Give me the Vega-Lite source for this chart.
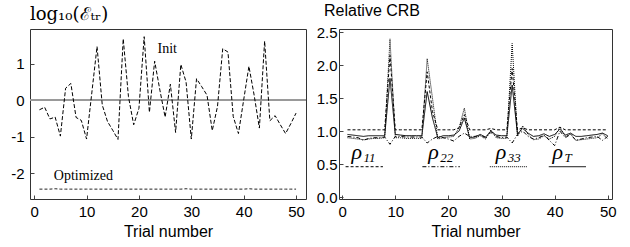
{
  "$schema": "https://vega.github.io/schema/vega-lite/v6.json",
  "padding": {"left": 10, "top": 2, "right": 0, "bottom": 2},
  "spacing": 7,
  "config": {
    "view": {"stroke": "#333", "strokeWidth": 1},
    "axis": {"labelFont": "Liberation Sans", "labelFontSize": 15, "labelColor": "#000", "titleFont": "Liberation Sans", "titleFontSize": 16, "titleFontWeight": "normal", "titleColor": "#000", "grid": false, "domain": false, "tickColor": "#444", "tickSize": -4, "labelPadding": 9, "titlePadding": 4, "labelOverlap": false},
    "axisY": {"labelOverlap": false},
    "axisQuantitative": {"labelOverlap": false}
  },
  "datasets": {
    "left": [
      {"t": 1, "init": -0.26, "opt": -2.43}, {"t": 2, "init": -0.19, "opt": -2.43}, {"t": 3, "init": -0.51, "opt": -2.43}, {"t": 4, "init": -0.46, "opt": -2.42},
      {"t": 5, "init": -0.98, "opt": -2.43}, {"t": 6, "init": 0.33, "opt": -2.43}, {"t": 7, "init": 0.46, "opt": -2.43}, {"t": 8, "init": -0.47, "opt": -2.43},
      {"t": 9, "init": -0.55, "opt": -2.43}, {"t": 10, "init": -1.06, "opt": -2.43}, {"t": 11, "init": 0.2, "opt": -2.43}, {"t": 12, "init": 1.47, "opt": -2.43},
      {"t": 13, "init": -0.13, "opt": -2.43}, {"t": 14, "init": -0.58, "opt": -2.43}, {"t": 15, "init": -0.82, "opt": -2.43}, {"t": 16, "init": -1.07, "opt": -2.43},
      {"t": 17, "init": 1.68, "opt": -2.43}, {"t": 18, "init": 0.1, "opt": -2.43}, {"t": 19, "init": -0.67, "opt": -2.43}, {"t": 20, "init": -0.22, "opt": -2.43},
      {"t": 21, "init": 1.74, "opt": -2.43}, {"t": 22, "init": -0.33, "opt": -2.43}, {"t": 23, "init": 1.07, "opt": -2.43}, {"t": 24, "init": 0.28, "opt": -2.43},
      {"t": 25, "init": -0.46, "opt": -2.43}, {"t": 26, "init": 0.44, "opt": -2.43}, {"t": 27, "init": -0.88, "opt": -2.43}, {"t": 28, "init": 0.98, "opt": -2.43},
      {"t": 29, "init": 0.5, "opt": -2.42}, {"t": 30, "init": -1.06, "opt": -2.43}, {"t": 31, "init": 0.59, "opt": -2.43}, {"t": 32, "init": 0.37, "opt": -2.43},
      {"t": 33, "init": 0.14, "opt": -2.43}, {"t": 34, "init": -0.83, "opt": -2.43}, {"t": 35, "init": -0.17, "opt": -2.43}, {"t": 36, "init": 1.41, "opt": -2.43},
      {"t": 37, "init": 1.32, "opt": -2.43}, {"t": 38, "init": -0.44, "opt": -2.43}, {"t": 39, "init": -0.91, "opt": -2.43}, {"t": 40, "init": 0.01, "opt": -2.43},
      {"t": 41, "init": 0.93, "opt": -2.42}, {"t": 42, "init": 0.14, "opt": -2.43}, {"t": 43, "init": -0.76, "opt": -2.43}, {"t": 44, "init": 1.62, "opt": -2.43},
      {"t": 45, "init": -0.56, "opt": -2.43}, {"t": 46, "init": -0.42, "opt": -2.43}, {"t": 47, "init": -0.67, "opt": -2.43}, {"t": 48, "init": -0.91, "opt": -2.43},
      {"t": 49, "init": -0.64, "opt": -2.43}, {"t": 50, "init": -0.35, "opt": -2.43}
    ],
    "leftLabels": [
      {"x": 25.4, "y": 1.41, "label": "Init"},
      {"x": 9.4, "y": -2.07, "label": "Optimized"}
    ],
    "right": [
      {"t": 1, "p11": 1.02, "p22": 0.92, "p33": 0.9, "pT": 0.95}, {"t": 2, "p11": 1.02, "p22": 0.91, "p33": 0.89, "pT": 0.94},
      {"t": 3, "p11": 1.02, "p22": 0.9, "p33": 0.88, "pT": 0.93}, {"t": 4, "p11": 1.02, "p22": 0.86, "p33": 0.87, "pT": 0.92},
      {"t": 5, "p11": 1.02, "p22": 0.89, "p33": 0.88, "pT": 0.93}, {"t": 6, "p11": 1.02, "p22": 0.9, "p33": 0.89, "pT": 0.93},
      {"t": 7, "p11": 1.02, "p22": 0.9, "p33": 0.89, "pT": 0.93}, {"t": 8, "p11": 1.02, "p22": 0.91, "p33": 0.9, "pT": 0.93},
      {"t": 9, "p11": 2.15, "p22": 0.8, "p33": 2.4, "pT": 1.8}, {"t": 10, "p11": 1.02, "p22": 0.92, "p33": 0.9, "pT": 0.95},
      {"t": 11, "p11": 1.02, "p22": 0.92, "p33": 0.9, "pT": 0.94}, {"t": 12, "p11": 1.02, "p22": 0.91, "p33": 0.89, "pT": 0.93},
      {"t": 13, "p11": 1.02, "p22": 0.91, "p33": 0.89, "pT": 0.93}, {"t": 14, "p11": 1.02, "p22": 0.91, "p33": 0.89, "pT": 0.93},
      {"t": 15, "p11": 1.02, "p22": 0.91, "p33": 0.89, "pT": 0.93}, {"t": 16, "p11": 1.9, "p22": 0.82, "p33": 2.1, "pT": 1.6},
      {"t": 17, "p11": 1.3, "p22": 0.88, "p33": 1.5, "pT": 1.2}, {"t": 18, "p11": 1.02, "p22": 0.92, "p33": 0.88, "pT": 0.9},
      {"t": 19, "p11": 1.02, "p22": 0.9, "p33": 0.9, "pT": 0.93}, {"t": 20, "p11": 1.02, "p22": 0.88, "p33": 0.91, "pT": 0.93},
      {"t": 21, "p11": 1.02, "p22": 0.85, "p33": 0.92, "pT": 0.94}, {"t": 22, "p11": 1.05, "p22": 0.92, "p33": 1.05, "pT": 1.0},
      {"t": 23, "p11": 1.25, "p22": 0.97, "p33": 1.35, "pT": 1.2}, {"t": 24, "p11": 1.02, "p22": 0.92, "p33": 0.88, "pT": 0.9},
      {"t": 25, "p11": 1.02, "p22": 0.92, "p33": 0.89, "pT": 0.91}, {"t": 26, "p11": 1.02, "p22": 0.94, "p33": 0.93, "pT": 0.95},
      {"t": 27, "p11": 1.02, "p22": 0.9, "p33": 0.88, "pT": 0.91}, {"t": 28, "p11": 1.04, "p22": 0.98, "p33": 1.02, "pT": 1.0},
      {"t": 29, "p11": 1.02, "p22": 0.92, "p33": 0.9, "pT": 0.94}, {"t": 30, "p11": 1.02, "p22": 0.9, "p33": 0.89, "pT": 0.93},
      {"t": 31, "p11": 1.02, "p22": 0.91, "p33": 0.89, "pT": 0.93}, {"t": 32, "p11": 1.95, "p22": 0.82, "p33": 2.33, "pT": 1.7},
      {"t": 33, "p11": 1.02, "p22": 0.95, "p33": 0.92, "pT": 0.96}, {"t": 34, "p11": 1.05, "p22": 1.0, "p33": 1.08, "pT": 1.04},
      {"t": 35, "p11": 1.02, "p22": 0.92, "p33": 0.95, "pT": 0.97}, {"t": 36, "p11": 1.02, "p22": 0.88, "p33": 0.87, "pT": 0.92},
      {"t": 37, "p11": 1.02, "p22": 0.9, "p33": 0.88, "pT": 0.93}, {"t": 38, "p11": 1.02, "p22": 0.94, "p33": 0.93, "pT": 0.96},
      {"t": 39, "p11": 1.02, "p22": 0.86, "p33": 0.88, "pT": 0.92}, {"t": 40, "p11": 1.02, "p22": 0.78, "p33": 0.92, "pT": 0.95},
      {"t": 41, "p11": 1.06, "p22": 1.0, "p33": 1.06, "pT": 1.03}, {"t": 42, "p11": 1.02, "p22": 0.9, "p33": 0.92, "pT": 0.94},
      {"t": 43, "p11": 1.02, "p22": 0.95, "p33": 0.96, "pT": 0.97}, {"t": 44, "p11": 1.02, "p22": 0.86, "p33": 0.86, "pT": 0.92},
      {"t": 45, "p11": 1.02, "p22": 0.88, "p33": 0.87, "pT": 0.92}, {"t": 46, "p11": 1.02, "p22": 0.9, "p33": 0.88, "pT": 0.93},
      {"t": 47, "p11": 1.02, "p22": 0.91, "p33": 0.89, "pT": 0.94}, {"t": 48, "p11": 1.02, "p22": 0.92, "p33": 0.9, "pT": 0.95},
      {"t": 49, "p11": 1.02, "p22": 0.86, "p33": 0.96, "pT": 0.97}, {"t": 50, "p11": 1.02, "p22": 0.92, "p33": 0.88, "pT": 0.93}
    ],
    "legend": [
      {"s": "p11", "x1": 0.64, "x2": 7.67, "ly": 0.46, "tx": 1.77, "ty": 0.576, "sub": "11"},
      {"s": "p22", "x1": 15.1, "x2": 22.15, "ly": 0.46, "tx": 16.2, "ty": 0.576, "sub": "22"},
      {"s": "p33", "x1": 27.8, "x2": 34.9, "ly": 0.46, "tx": 28.9, "ty": 0.576, "sub": "33"},
      {"s": "pT", "x1": 38.9, "x2": 45.9, "ly": 0.46, "tx": 39.6, "ty": 0.576, "sub": "T"}
    ]
  },
  "hconcat": [
    {
      "width": 276,
      "height": 170,
      "title": {"text": "log₁₀(ℰₜᵣ)", "anchor": "start", "frame": "group", "font": "DejaVu Serif", "fontSize": 18, "fontWeight": "normal", "color": "#000", "dx": 0, "offset": 5},
      "layer": [
        {
          "data": {"name": "left"},
          "mark": {"type": "rule", "color": "#999", "strokeWidth": 1.5},
          "encoding": {"y": {"datum": 0, "type": "quantitative"}}
        },
        {
          "data": {"name": "left"},
          "mark": {"type": "line", "color": "#000", "strokeWidth": 1, "strokeDash": [4, 2]},
          "encoding": {
            "x": {"field": "t", "type": "quantitative", "scale": {"domain": [-0.8, 51.9], "nice": false, "zero": false}, "axis": {"values": [0, 10, 20, 30, 40, 50], "title": "Trial number"}},
            "y": {"field": "init", "type": "quantitative", "scale": {"domain": [-2.7, 1.95], "nice": false, "zero": false}, "axis": {"values": [-2, -1, 0, 1], "title": null, "labelPadding": 10, "labelOverlap": false, "labelExpr": "replace(datum.label, '−', '-')"}}
          }
        },
        {
          "data": {"name": "left"},
          "mark": {"type": "line", "color": "#222", "strokeWidth": 1, "strokeDash": [3, 2]},
          "encoding": {
            "x": {"field": "t", "type": "quantitative"},
            "y": {"field": "opt", "type": "quantitative"}
          }
        },
        {
          "data": {"name": "leftLabels"},
          "mark": {"type": "text", "font": "Liberation Serif", "fontSize": 14, "color": "#000"},
          "encoding": {
            "x": {"field": "x", "type": "quantitative"},
            "y": {"field": "y", "type": "quantitative"},
            "text": {"field": "label"}
          }
        }
      ]
    },
    {
      "width": 273,
      "height": 170,
      "title": {"text": "Relative CRB", "anchor": "start", "frame": "group", "font": "Liberation Sans", "fontSize": 16, "fontWeight": "normal", "color": "#000", "dx": -15, "offset": 6},
      "layer": [
        {
          "data": {"name": "right"},
          "transform": [{"fold": ["p11", "p22", "p33", "pT"], "as": ["s", "v"]}],
          "mark": {"type": "line", "color": "#000"},
          "encoding": {
            "x": {"field": "t", "type": "quantitative", "scale": {"domain": [-0.6, 50.8], "nice": false, "zero": false}, "axis": {"values": [0, 10, 20, 30, 40, 50], "title": "Trial number"}},
            "y": {"field": "v", "type": "quantitative", "scale": {"domain": [-0.03, 2.55], "nice": false, "zero": false}, "axis": {"tickCount": 6, "format": ".1f", "title": null, "labelPadding": 6, "labelOverlap": false, "labelSeparation": 0}},
            "detail": {"field": "s"},
            "strokeDash": {"field": "s", "type": "nominal", "scale": {"domain": ["p11", "p22", "p33", "pT"], "range": [[3, 2], [4, 2, 1, 2], [1, 1], [1, 0]]}, "legend": null},
            "strokeWidth": {"field": "s", "type": "nominal", "scale": {"domain": ["p11", "p22", "p33", "pT"], "range": [1, 1, 1.1, 1.5]}, "legend": null}
          }
        },
        {
          "data": {"name": "legend"},
          "mark": {"type": "rule", "color": "#000"},
          "encoding": {
            "x": {"field": "x1", "type": "quantitative"},
            "x2": {"field": "x2"},
            "y": {"field": "ly", "type": "quantitative"},
            "strokeDash": {"field": "s", "type": "nominal", "legend": null},
            "strokeWidth": {"field": "s", "type": "nominal", "legend": null}
          }
        },
        {
          "data": {"name": "legend"},
          "mark": {"type": "text", "font": "Liberation Serif", "fontStyle": "italic", "fontSize": 22, "align": "left", "baseline": "alphabetic", "color": "#000"},
          "encoding": {
            "x": {"field": "tx", "type": "quantitative"},
            "y": {"field": "ty", "type": "quantitative"},
            "text": {"value": "ρ"}
          }
        },
        {
          "data": {"name": "legend"},
          "mark": {"type": "text", "font": "Liberation Serif", "fontStyle": "italic", "fontSize": 13, "align": "left", "baseline": "alphabetic", "color": "#000", "dx": 12, "dy": 3},
          "encoding": {
            "x": {"field": "tx", "type": "quantitative"},
            "y": {"field": "ty", "type": "quantitative"},
            "text": {"field": "sub"}
          }
        }
      ]
    }
  ]
}
